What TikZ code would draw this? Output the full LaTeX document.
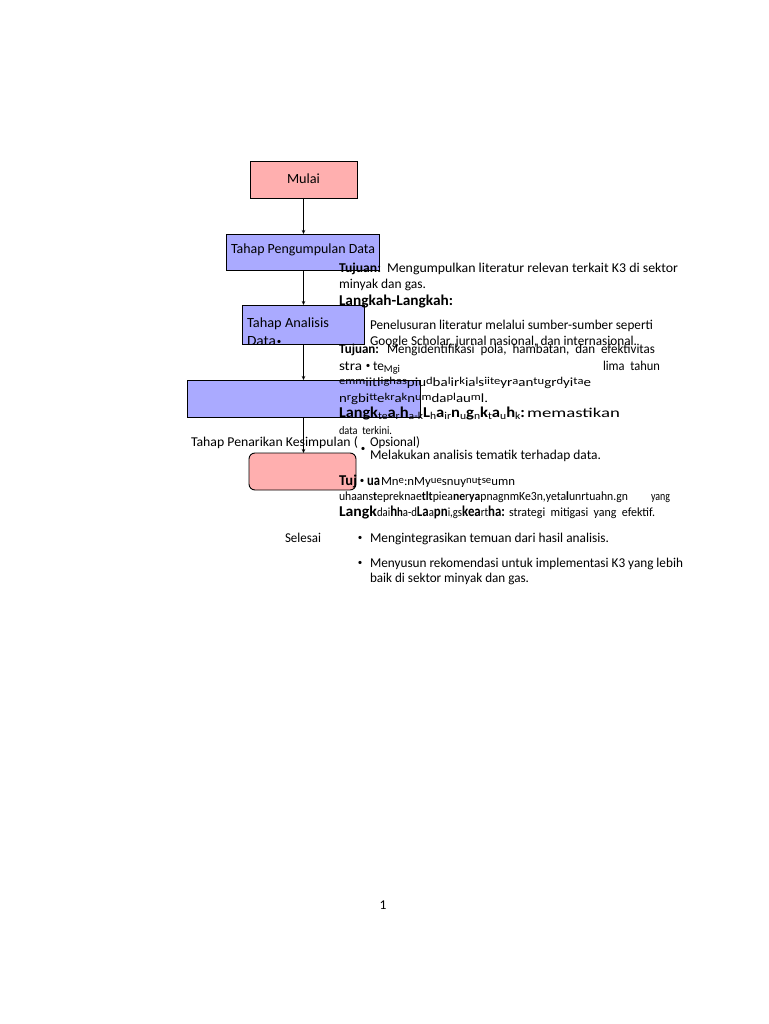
\documentclass[tikz,border=0pt]{standalone}
\usepackage{fontspec}
\setmainfont{Carlito}
\usepackage{graphicx}
\usetikzlibrary{arrows.meta}
\newcommand\fitw[2]{\resizebox{#1pt}{\height}{#2}}
\newcommand\gu[1]{\raisebox{2pt}{\fontsize{10.5}{10.5}\selectfont #1}}
\newcommand\gd[1]{{\fontsize{12.5}{12.5}\selectfont #1}}
\newcommand\gs[1]{\raisebox{-2pt}{\fontsize{10.5}{10.5}\selectfont\mdseries #1}}
\newcommand\bodyf{\fontsize{13.5}{15}\selectfont}
\newcommand\headf{\fontsize{15}{17}\selectfont\bfseries}
\newcommand\boxf{\fontsize{14}{16}\selectfont}
\definecolor{pinkfill}{RGB}{255,175,175}
\definecolor{bluefill}{RGB}{170,170,255}
\begin{document}
\begin{tikzpicture}[x=1pt,y=-1pt,
  box/.style={draw=black, line width=0.9pt, inner sep=0pt, outer sep=0pt, anchor=north west},
  txt/.style={anchor=base west, inner sep=0pt, outer sep=0pt, font=\bodyf},
  bul/.style={anchor=center, inner sep=0pt, font=\fontsize{9}{9}\selectfont},
  arr/.style={draw=black, line width=0.7pt, -{Stealth[length=4pt,width=3.5pt]}}]
\fill[white] (0,0) rectangle (768,1024);
\useasboundingbox (0,0) rectangle (768,1024);

% boxes
\node[box, fill=pinkfill, minimum width=107pt, minimum height=37pt] (mulai) at (250,161) {};
\node[box, fill=bluefill, minimum width=153pt, minimum height=36pt] (peng) at (226,234) {};
\node[box, fill=bluefill, minimum width=122pt, minimum height=39pt] (anal) at (242,305) {};
\node[box, fill=bluefill, minimum width=233pt, minimum height=37pt] (tarik) at (187,380) {};
\node[box, fill=pinkfill, rounded corners=6pt, minimum width=107pt, minimum height=37pt] (selesai) at (249,453) {};

% arrows
\draw[arr] (mulai.south) -- (mulai.south |- peng.north);
\draw[arr] (mulai.south |- peng.south) -- (mulai.south |- anal.north);
\draw[arr] (mulai.south |- anal.south) -- (mulai.south |- tarik.north);
\draw[arr] (mulai.south |- tarik.south) -- (mulai.south |- selesai.north);

% box labels
\node[txt, font=\boxf] (mulaiT) at (287,184) {\fitw{33}{Mulai}};
\node[txt, font=\boxf] (pengT) at (231,253) {\fitw{144}{Tahap Pengumpulan Data}};
\node[txt, font=\boxf] (analT) at (247,327) {\fitw{82}{Tahap Analisis}};
\begin{scope}
\clip (242,305) rectangle (364,343.5);
\node[txt, font=\boxf] (analD) at (247,345) {\fitw{29}{Data}};
\end{scope}
\node[bul] (b1) at (279,342) {•};

% text column
\node[txt, font=\bodyf\bfseries] (l1a) at (339,272) {\fitw{42}{Tujuan:}};
\node[txt] (l1b) at (387,272) {\fitw{291}{Mengumpulkan literatur relevan terkait K3 di sektor}};
\node[txt] (l2) at (339,288) {\fitw{87}{minyak dan gas.}};
\node[txt, font=\headf] (l3) at (339,305) {\fitw{114}{Langkah-Langkah:}};
\node[txt] (l4) at (370,329) {\fitw{283}{Penelusuran literatur melalui sumber-sumber seperti}};
\node[txt] (l5) at (370,345) {\fitw{267}{Google Scholar, jurnal nasional, dan internasional.}};
\node[txt, font=\bodyf\bfseries] (l6a) at (339,353) {\fitw{40}{Tujuan:}};
\node[txt] (l6b) at (387,353) {\fitw{268}{Mengidentifikasi\ \ pola,\ \ hambatan,\ \ dan\ \ efektivitas}};
\node[txt] (l7a) at (339,370) {\fitw{23}{stra}};
\node[bul] (b2) at (368,366) {•};
\node[txt] (l7b) at (373,370) {\fitw{27}{te\gs{Mgi}}};
\node[txt] (l7c) at (603,370) {\fitw{57}{lima\ \ tahun}};
\node[txt] (l8) at (339,386) {\fitw{252}{\gu{e}\gu{mm}\gd{iitl}\gu{igh}\gu{as}\gd{piu}\gu{d}\gd{ba}\gu{l}\gd{ir}\gu{k}\gd{ia}\gu{l}\gd{s}\gu{ii}\gu{te}\gd{yr}\gu{a}\gd{an}\gu{tu}\gd{gr}\gu{d}\gd{yi}\gu{t}\gu{a}\gd{e}}};
\node[txt] (l9) at (339,402) {\fitw{149}{\gd{n}\gu{r}\gd{gbi}\gu{tt}\gd{e}\gu{kr}\gd{a}\gu{k}\gd{n}\gu{um}\gd{da}\gu{pl}\gd{au}\gu{m}\gd{l.}}};
\node[txt, font=\headf] (l10a) at (339,417) {\fitw{39}{Langk}};
\node[txt, font=\headf] (l10b) at (378,417) {\fitw{147}{\gs{te}a\gs{r}h\gs{a-k}L\gs{h}a\gs{ir}n\gs{u}g\gs{n}k\gs{t}a\gs{u}h\gs{k}:}};
\node[txt] (l10c) at (527,417) {\fitw{93}{memastikan}};
\node[txt, font=\fontsize{11.5}{11.5}\selectfont] (l11) at (339,434) {\fitw{53}{data\ \ terkini.}};
\node[txt] (l12a) at (191,446) {\fitw{167}{Tahap Penarikan Kesimpulan (}};
\node[txt] (l12b) at (370,446) {\fitw{50}{Opsional)}};
\node[bul] (b3) at (363,449) {•};
\node[txt] (l13) at (370,459) {\fitw{231}{Melakukan analisis tematik terhadap data.}};
\node[txt, font=\headf] (l14a) at (339,485) {\fitw{18}{Tuj}};
\node[bul] (b4) at (362,481) {•};
\node[txt, font=\headf] (l14b) at (367,485) {\fitw{13}{ua}};
\node[txt, font=\fontsize{11.5}{11.5}\selectfont] (l14c) at (381,485) {\fitw{134}{\gd{Mn}\gu{e}\gd{:nMy}\gu{ue}\gd{snuy}\gu{nu}\gd{t}\gu{se}\gd{umn}}};
\node[txt, font=\fontsize{12.5}{12.5}\selectfont] (l15a) at (339,500) {\fitw{289}{uhaans\textbf{t}epreknae\textbf{tlt}piea\textbf{ne}r\textbf{ya}pnagnmKe3n,yeta\textbf{l}unrtuahn.gn}};
\node[txt, font=\fontsize{12.5}{12.5}\selectfont] (l15b) at (651,500) {\fitw{19}{yang}};
\node[txt, font=\headf] (l16a) at (339,516) {\fitw{38}{Langk}};
\node[txt, font=\headf] (l16b) at (377,516) {\fitw{128}{\gd{\mdseries dai}h\gd{h}\gd{\mdseries a-d}La\gd{\mdseries a}pn\gd{\mdseries i,gs}kea\gd{\mdseries rt}ha:}};
\node[txt, font=\fontsize{12.5}{12.5}\selectfont] (l16c) at (509,516) {\fitw{146}{strategi\ \ mitigasi\ \ yang\ \ efektif.}};
\node[txt] (l17a) at (285,542) {\fitw{36}{Selesai}};
\node[bul] (b5) at (360,538) {•};
\node[txt] (l17b) at (370,542) {\fitw{239}{Mengintegrasikan temuan dari hasil analisis.}};
\node[bul] (b6) at (360,563) {•};
\node[txt] (l18) at (370,567) {\fitw{313}{Menyusun rekomendasi untuk implementasi K3 yang lebih}};
\node[txt] (l19) at (370,582) {\fitw{159}{baik di sektor minyak dan gas.}};
\node[txt, anchor=base] (pg) at (383,909) {1};
\end{tikzpicture}
\end{document}
